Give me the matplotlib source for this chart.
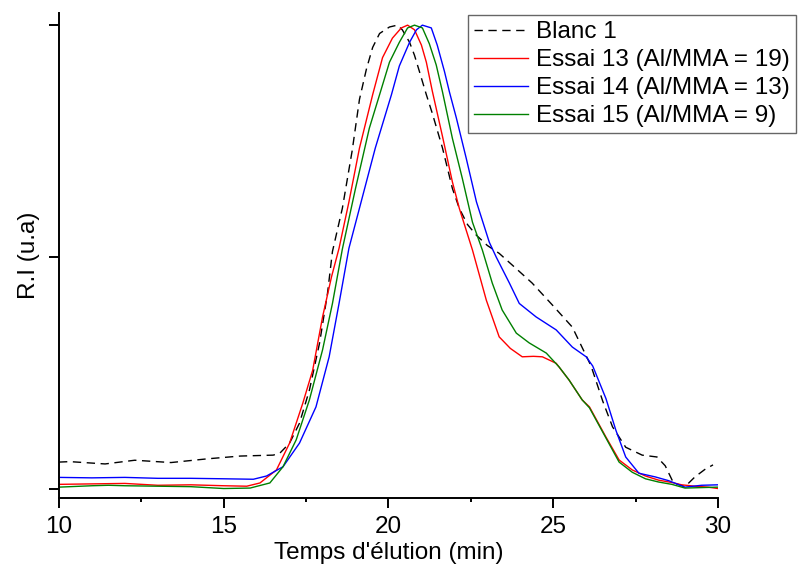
import matplotlib
matplotlib.use("Agg")
import matplotlib.pyplot as plt
from matplotlib.ticker import MultipleLocator

plt.rcParams['font.family'] = ['Liberation Sans', 'DejaVu Sans']

# Elution time (min) and normalised RI signal for each chromatogram
blanc_x = [10, 10.33, 11.4, 12.3, 13.4, 14.5, 15.5, 16.5, 16.7, 17.0, 17.3, 17.6,
           17.91, 18.15, 18.3, 18.6, 18.9, 19.12, 19.33, 19.52, 19.73, 20.03, 20.27,
           20.42, 20.64, 20.79, 20.94, 21.15, 21.33, 21.64, 21.94, 22.15, 22.4,
           22.67, 23.0, 23.36, 23.8, 24.36, 24.97, 25.58, 26.15, 26.5, 26.8, 27.2,
           27.7, 28.15, 28.4, 28.65, 29.0, 29.3, 29.6, 29.85]
blanc_y = [0.058, 0.059, 0.054, 0.062, 0.057, 0.065, 0.071, 0.073, 0.077, 0.099,
           0.142, 0.213, 0.315, 0.422, 0.512, 0.605, 0.73, 0.84, 0.905, 0.952,
           0.982, 0.996, 1.0, 0.99, 0.963, 0.935, 0.9, 0.85, 0.81, 0.735, 0.648,
           0.605, 0.57, 0.547, 0.525, 0.508, 0.48, 0.444, 0.397, 0.349, 0.265, 0.19,
           0.134, 0.09, 0.073, 0.069, 0.05, 0.013, 0.005, 0.026, 0.042, 0.052]

e13_x = [10, 11, 12, 13, 14, 15, 15.7, 16.1, 16.6, 17.0, 17.4, 17.7, 18.0, 18.27,
         18.5, 18.8, 19.12, 19.52, 19.82, 20.12, 20.39, 20.58, 20.79, 21.0, 21.15,
         21.33, 21.64, 21.94, 22.15, 22.55, 22.97, 23.36, 23.7, 24.06, 24.4, 24.67,
         25.09, 25.48, 25.88, 26.1, 26.6, 27.0, 27.4, 27.8, 28.2, 28.6, 28.9, 29.3,
         29.7, 30]
e13_y = [0.010, 0.011, 0.012, 0.008, 0.009, 0.007, 0.006, 0.013, 0.041, 0.099,
         0.185, 0.256, 0.371, 0.457, 0.519, 0.619, 0.735, 0.85, 0.93, 0.972, 0.994,
         1.0, 0.99, 0.957, 0.92, 0.858, 0.76, 0.662, 0.605, 0.515, 0.407, 0.328,
         0.303, 0.285, 0.286, 0.285, 0.271, 0.235, 0.192, 0.177, 0.112, 0.0625,
         0.041, 0.028, 0.019, 0.014, 0.009, 0.006, 0.004, 0.001]

e14_x = [10, 11, 12, 13, 14, 15, 15.9, 16.3, 16.8, 17.3, 17.8, 18.2, 18.5, 18.8,
         19.2, 19.6, 20.09, 20.33, 20.64, 20.85, 21.03, 21.3, 21.48, 21.7, 21.85,
         22.06, 22.36, 22.67, 23.06, 23.27, 23.67, 23.97, 24.48, 25.09, 25.58, 26.0,
         26.2, 26.6, 26.9, 27.2, 27.6, 28.1, 28.5, 29.0, 29.5, 30]
e14_y = [0.025, 0.024, 0.025, 0.023, 0.023, 0.022, 0.021, 0.028, 0.048, 0.099,
         0.177, 0.285, 0.40, 0.519, 0.627, 0.735, 0.85, 0.912, 0.963, 0.99, 1.0,
         0.994, 0.957, 0.9, 0.856, 0.80, 0.713, 0.619, 0.532, 0.5, 0.444, 0.40,
         0.371, 0.343, 0.306, 0.285, 0.265, 0.195, 0.127, 0.069, 0.034, 0.026,
         0.018, 0.004, 0.008, 0.009]

e15_x = [10, 11, 11.5, 12, 13, 14, 15, 15.8, 16.4, 16.8, 17.2, 17.6, 18.0, 18.3,
         18.6, 19.0, 19.42, 19.73, 20.03, 20.33, 20.58, 20.79, 21.03, 21.24, 21.45,
         21.64, 21.94, 22.24, 22.55, 22.85, 23.15, 23.45, 23.88, 24.27, 24.79,
         25.18, 25.48, 25.88, 26.1, 26.6, 27.0, 27.4, 27.8, 28.2, 28.6, 29.0, 29.5,
         30]
e15_y = [0.004, 0.007, 0.008, 0.007, 0.006, 0.005, 0.001, 0.002, 0.013, 0.048,
         0.106, 0.192, 0.30, 0.40, 0.517, 0.648, 0.778, 0.85, 0.92, 0.963, 0.994,
         1.0, 0.994, 0.96, 0.914, 0.856, 0.756, 0.67, 0.575, 0.515, 0.444, 0.386,
         0.336, 0.315, 0.293, 0.263, 0.235, 0.192, 0.175, 0.11, 0.058, 0.036, 0.022,
         0.015, 0.010, 0.002, 0.003, 0.004]

labels = ["Blanc 1", "Essai 13 (Al/MMA = 19)", "Essai 14 (Al/MMA = 13)",
          "Essai 15 (Al/MMA = 9)"]

fig = plt.figure(figsize=(7.98, 5.69), dpi=100)
ax = fig.add_axes([0.0739, 0.1248, 0.8258, 0.8522])

ax.plot(blanc_x, blanc_y, color="black", lw=1.0, dashes=(6, 4), label=labels[0])
ax.plot(e13_x, e13_y, color="#ff0000", lw=1.0, label=labels[1])
ax.plot(e14_x, e14_y, color="#0000ff", lw=1.0, label=labels[2])
ax.plot(e15_x, e15_y, color="#008000", lw=1.0, label=labels[3])

ax.set_xlim(10, 30)
ax.set_ylim(-0.0194, 1.026)
ax.xaxis.set_major_locator(MultipleLocator(5))
ax.xaxis.set_minor_locator(MultipleLocator(2.5))
ax.set_yticks([0, 0.5, 1.0])
ax.set_yticklabels([])

for side in ("top", "right"):
    ax.spines[side].set_visible(False)
for side in ("left", "bottom"):
    ax.spines[side].set_linewidth(1.4)

ax.tick_params(axis="both", which="major", direction="out", length=7, width=1.4,
               labelsize=17.5, colors="black")
ax.tick_params(axis="x", which="minor", direction="out", length=3, width=1.4)
ax.tick_params(axis="x", pad=6)

ax.set_xlabel("Temps d'élution (min)", fontsize=17.5, labelpad=3)
ax.set_ylabel("R.I (u.a)", fontsize=17.5, labelpad=3)

leg = fig.legend(loc="upper right", bbox_to_anchor=(0.997, 0.9736), fontsize=17.5,
                 frameon=True, fancybox=False, framealpha=1, edgecolor="#666666",
                 handlelength=2.2, handletextpad=0.33, labelspacing=0.25,
                 borderpad=0.25, borderaxespad=0)
leg.get_frame().set_linewidth(1.0)

fig.savefig("out.png", dpi=100)
